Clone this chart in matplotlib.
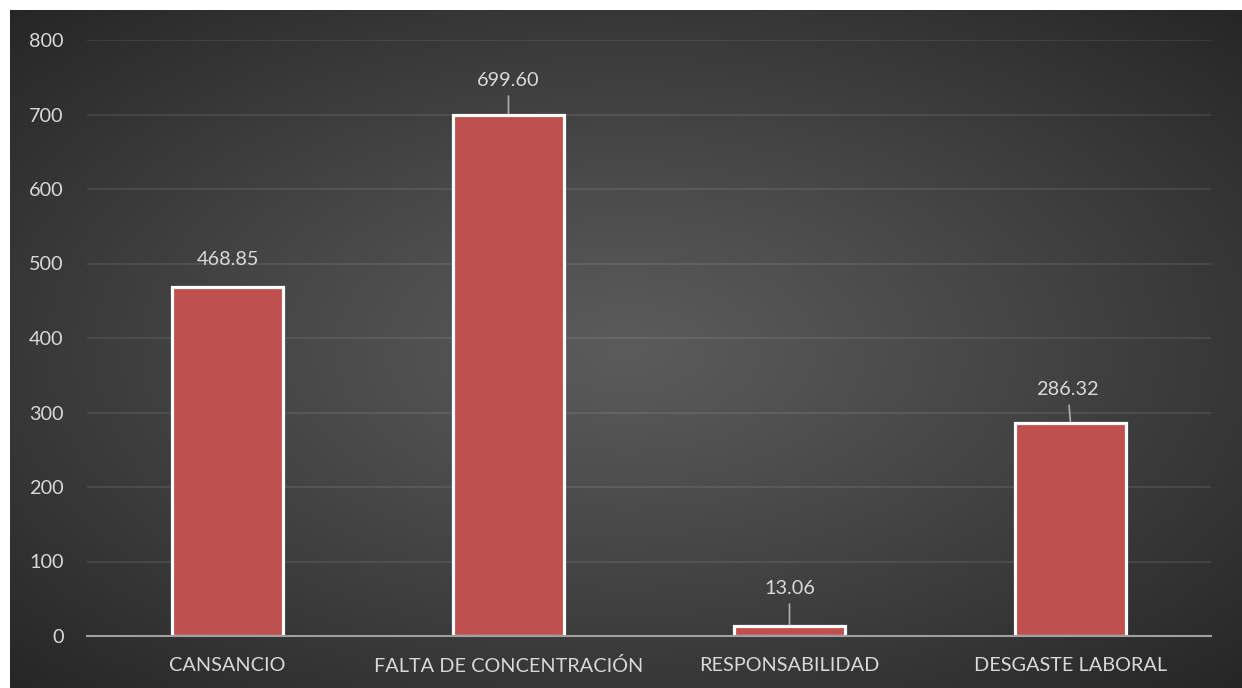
import numpy as np
import matplotlib.pyplot as plt

categories = ["CANSANCIO", "FALTA DE CONCENTRACIÓN", "RESPONSABILIDAD", "DESGASTE LABORAL"]
values = [468.85, 699.60, 13.06, 286.32]
label_texts = ["468.85", "699.60", "13.06", "286.32"]
yticks = [0, 100, 200, 300, 400, 500, 600, 700, 800]

W, H = 1242, 688
plt.rcParams['font.family'] = ['Lato', 'DejaVu Sans']
txt_color = '#d9d9d9'
fs = 14.3

fig = plt.figure(figsize=(W / 100, H / 100), dpi=100)
fig.patch.set_facecolor('white')

# dark radial background behind the chart
bg = fig.add_axes([10 / W, 0, (W - 10) / W, (H - 10) / H])
gx, gy = np.meshgrid(np.linspace(-1, 1, 400), np.linspace(-1, 1, 240))
r = np.clip(np.sqrt(gx ** 2 + gy ** 2) / np.sqrt(2), 0, 1)
shade = (0x5b - (0x5b - 0x26) * r ** 1.1) / 255.0
bg.imshow(np.dstack([shade, shade, shade]), aspect='auto', extent=[0, 1, 0, 1],
          interpolation='bilinear')
bg.set_axis_off()

ax = fig.add_axes([87 / W, 1 - 636 / H, (1211 - 87) / W, (636 - 40) / H])
ax.set_facecolor('none')
x = np.arange(len(categories))
ax.bar(x, values, width=0.395, color='#c0504d', edgecolor='white', linewidth=2.3, zorder=3)

ax.set_xlim(-0.5, len(categories) - 0.5)
ax.set_ylim(0, 800)
ax.set_yticks(yticks)
ax.set_yticklabels([str(t) for t in yticks])
ax.set_xticks(x)
ax.set_xticklabels(categories)
ax.tick_params(axis='both', length=0, colors=txt_color, labelsize=fs)
ax.tick_params(axis='y', pad=17)
ax.tick_params(axis='x', pad=15)
ax.grid(axis='y', color='white', alpha=0.1, linewidth=1.2, zorder=0)
for s in ['top', 'right', 'left']:
    ax.spines[s].set_visible(False)
ax.spines['bottom'].set_color('#a0a0a0')
ax.spines['bottom'].set_linewidth(1.5)
ax.spines['bottom'].set_zorder(4)

# data labels, most with a short leader line down to the bar
offsets = [(0, 13.5), (0, 18.5), (0, 21), (-2, 17.5)]
leaders = [False, True, True, True]
for xi, v, t, off, lead in zip(x, values, label_texts, offsets, leaders):
    props = dict(arrowstyle='-', color='#b0b0b0', lw=1.2, shrinkA=3, shrinkB=1) if lead else None
    ax.annotate(t, xy=(xi, v), xytext=off, textcoords='offset points',
                ha='center', va='bottom', color=txt_color, fontsize=fs,
                arrowprops=props, zorder=5)

fig.savefig('out.png', dpi=100, facecolor=fig.get_facecolor())
